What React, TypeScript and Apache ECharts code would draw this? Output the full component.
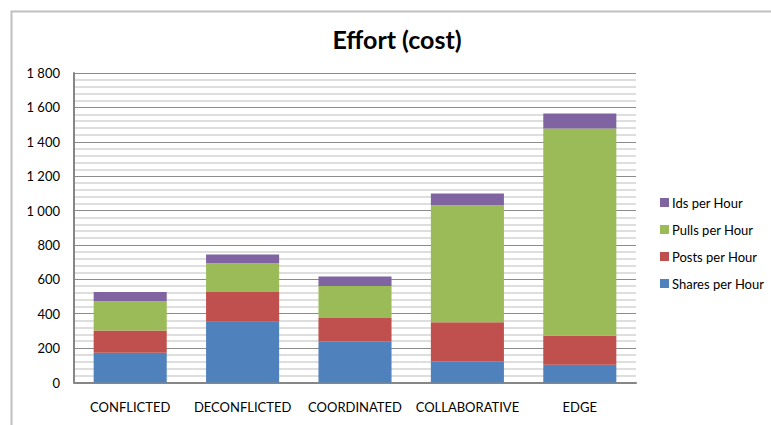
import React, { useEffect, useRef } from "react";
import * as echarts from "echarts";

const categories = ["CONFLICTED", "DECONFLICTED", "COORDINATED", "COLLABORATIVE", "EDGE"];
const sharesPerHour = [173, 353, 239, 122, 103];
const postsPerHour = [130, 173, 136, 229, 169];
const pullsPerHour = [170, 167, 186, 680, 1205];
const idsPerHour = [53, 52, 56, 68, 88];
const legendOrder = ["Ids per Hour", "Pulls per Hour", "Posts per Hour", "Shares per Hour"];
const FONT = "Lato, 'Open Sans', sans-serif";

function fmt(v: number): string {
  if (v >= 1000) {
    return Math.floor(v / 1000) + " " + String(v % 1000).padStart(3, "0");
  }
  return String(v);
}

export default function App() {
  const ref = useRef<HTMLDivElement>(null);
  useEffect(() => {
    if (!ref.current) return;
    const chart = echarts.init(ref.current, undefined, { renderer: "svg" });
    const mk = (name: string, data: number[], color: string) => ({
      name,
      type: "bar",
      stack: "total",
      data,
      barWidth: "65%",
      itemStyle: { color },
      emphasis: { disabled: true },
    });
    chart.setOption({
      animation: false,
      backgroundColor: "#ffffff",
      title: {
        text: "Effort (cost)",
        left: 392,
        textAlign: "center",
        top: 21,
        textStyle: { fontFamily: FONT, fontWeight: "bold", fontSize: 25, color: "#000" },
      },
      graphic: [
        {
          type: "polyline",
          shape: { points: [[11.5, 430], [11.5, 11.5], [780, 11.5]] },
          style: { stroke: "#c0c0c0", lineWidth: 2, fill: "none" },
          silent: true,
        },
      ],
      legend: {
        orient: "vertical",
        left: 655,
        top: 191,
        itemWidth: 9,
        itemHeight: 9,
        itemGap: 14,
        icon: "rect",
        data: legendOrder,
        textStyle: { fontFamily: FONT, fontSize: 13, color: "#000", padding: [0, 0, 0, -2] },
      },
      grid: { left: 74, right: 135, top: 73, bottom: 42.5, containLabel: false },
      xAxis: {
        type: "category",
        data: categories,
        axisLine: { lineStyle: { color: "#868686", width: 2 } },
        axisTick: { show: false },
        axisLabel: { fontFamily: FONT, fontSize: 13, color: "#000", margin: 18, interval: 0 },
      },
      yAxis: {
        type: "value",
        min: 0,
        max: 1800,
        interval: 200,
        axisLine: { show: true, lineStyle: { color: "#868686", width: 2 } },
        axisTick: { show: false },
        axisLabel: { fontFamily: FONT, fontSize: 13, color: "#000", margin: 14, formatter: fmt },
        splitLine: { lineStyle: { color: "#8c8c8c", width: 1 } },
        minorTick: { show: false, splitNumber: 5 },
        minorSplitLine: { show: true, lineStyle: { color: "#d3d3d3", width: 1.5 } },
      },
      series: [
        mk("Shares per Hour", sharesPerHour, "#4F81BD"),
        mk("Posts per Hour", postsPerHour, "#C0504D"),
        mk("Pulls per Hour", pullsPerHour, "#9BBB59"),
        mk("Ids per Hour", idsPerHour, "#8064A2"),
      ],
    });
    return () => chart.dispose();
  }, []);
  return (
    <div
      ref={ref}
      style={{ position: "fixed", left: 0, top: 0, width: 771, height: 425 }}
    />
  );
}
